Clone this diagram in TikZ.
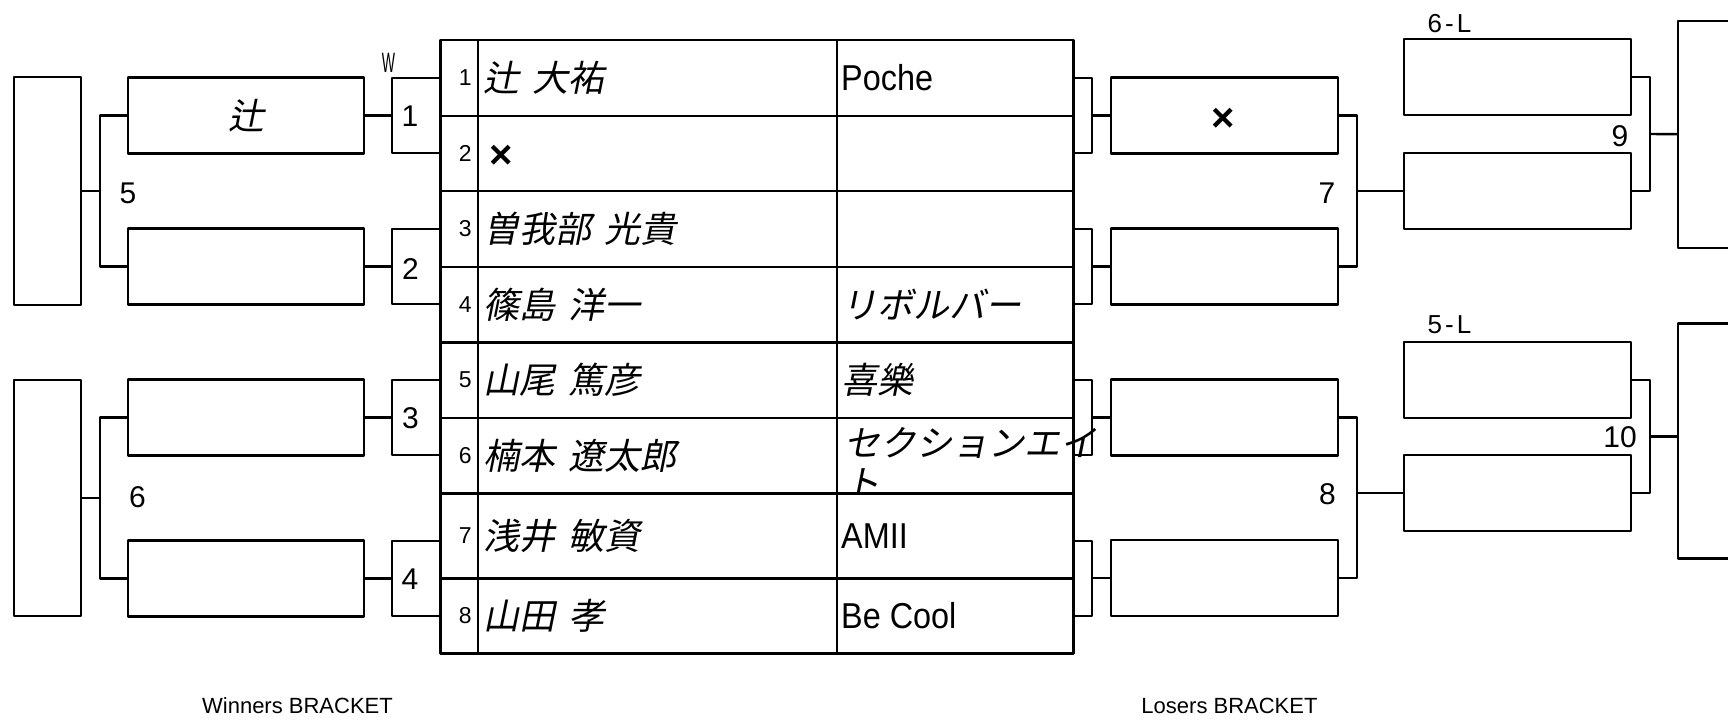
\documentclass[tikz,border=0pt]{standalone}
\usepackage{fontspec}
\setmainfont{Liberation Sans}
\newfontfamily\jpfont[FakeSlant=0.2,WordSpace=1.6]{Noto Sans CJK JP}
\newfontfamily\teamfont[FakeStretch=0.9]{Liberation Sans}
\newfontfamily\narrowfont[FakeStretch=0.5]{Liberation Sans}
\newcommand{\fsz}[1]{\fontsize{#1}{#1}\selectfont}
\usetikzlibrary{positioning, calc}

\tikzset{
	slot/.style={draw, minimum width=236pt, minimum height=76pt, font=\jpfont\fsz{36}},
	lslot/.style={draw, minimum width=227pt, minimum height=76pt, font=\jpfont\fsz{36}},
	cell/.style={draw},
	lbl/.style={font=\fsz{30}},
	xmark/.style={font=\normalfont\bfseries\fsz{40}}
}

\begin{document}
\begin{tikzpicture}[x=1pt, y=-1pt, line width=2.4pt, line join=round,
		every node/.style={inner sep=0pt}]
	\useasboundingbox (0,0) rectangle (1728,720);

	% entry table
	\foreach \i/\ya/\yb/\py/\nm/\tm in {
		1/40/115.7/78/辻 大祐/{\teamfont Poche},
		2/115.7/191/153/{},
		3/191/266.7/229/曽我部 光貴/{},
		4/266.7/342.5/304/篠島 洋一/リボルバー,
		5/342.5/417.7/380/山尾 篤彦/喜樂,
		6/417.7/493.3/455/楠本 遼太郎/{},
		7/493.3/578.3/541/浅井 敏資/{\teamfont AMII},
		8/578.3/653.3/616/山田 孝/{\teamfont Be Cool}} {
		\pgfmathsetmacro\yc{(\ya+\yb)/2}
		\pgfmathsetmacro\hh{\yb-\ya}
		\node[cell, minimum width=37.3pt, minimum height=\hh pt] (num\i) at (459.05,\yc) {};
		\node[cell, minimum width=359.5pt, minimum height=\hh pt] (nmc\i) at (657.45,\yc) {};
		\node[cell, minimum width=236.3pt, minimum height=\hh pt] (tmc\i) at (955.35,\yc) {};
		\node[anchor=east, font=\fsz{23}] (no\i) at ([xshift=-6pt]num\i.east) {\i};
		\node[anchor=west, font=\jpfont\fsz{36}] (nm\i) at ([xshift=6pt]nmc\i.west) {\nm};
		\node[anchor=west, font=\jpfont\fsz{36}] (tm\i) at ([xshift=4pt]tmc\i.west) {\tm};
		\coordinate (p\i) at (440.4,\py);
		\coordinate (q\i) at (1073.5,\py);
	}
	\node[xmark] (bye2) at (501,157) {×};
	% long team name runs out of its cell
	\begin{scope}
		\clip (837.2,417.7) rectangle (1300,493.3);
		\node[anchor=west, font=\jpfont\fsz{36}] (tm6a) at (843,442.5) {セクションエイ};
		\node[anchor=west, font=\jpfont\fsz{36}] (tm6b) at (843,483) {ト};
	\end{scope}

	% winners side
	\node[draw, minimum width=67pt, minimum height=228pt] (wf5) at (47.5,191) {};
	\node[draw, minimum width=67pt, minimum height=236pt] (wf6) at (47.5,498) {};
	\foreach \k/\y/\t in {1/115.5/辻, 2/266.5/, 3/417.5/, 4/578.5/} {
		\node[slot] (ws\k) at (246,\y) {\t};
		\coordinate (m\k) at (392,\y);
	}
	% losers side
	\foreach \k/\y in {1/115.5, 2/266.5, 3/417.5, 4/578} {
		\node[lslot] (ls\k) at (1224.5,\y) {};
		\coordinate (r\k) at (1092,\y);
	}
	\node[xmark] (bye1) at (1223,120) {×};
	\foreach \k/\y in {1/77, 2/191, 3/380, 4/493}
		\node[lslot] (lr\k) at (1517.5,\y) {};
	\node[draw, minimum width=100pt, minimum height=227pt] (rf9) at (1728,134.2) {};
	\node[draw, minimum width=100pt, minimum height=235pt] (rf10) at (1728,440.8) {};

	% first round brackets
	\foreach \k/\a/\b in {1/1/2, 2/3/4, 3/5/6, 4/7/8} {
		\draw (p\a) -| (m\k) |- (p\b);
		\draw (ws\k.east) -- (m\k);
		\draw (q\a) -| (r\k) |- (q\b);
		\draw (r\k) -- (ls\k.west);
	}

	\coordinate (k5) at (100,191);
	\coordinate (k6) at (100,498);
	\coordinate (k7) at (1357,191);
	\coordinate (k8) at (1357,497.75);
	\coordinate (k9) at (1650,134);
	\coordinate (k10) at (1650,436.5);
	\draw (ws1.west) -| (k5) |- (ws2.west);
	\draw (wf5.east) -- (k5);
	\draw (ws3.west) -| (k6) |- (ws4.west);
	\draw (wf6.east) -- (k6);
	\draw (ls1.east) -| (k7) |- (ls2.east);
	\draw (k7) -- (lr2.west);
	\draw (ls3.east) -| (k8) |- (ls4.east);
	\draw (lr4.west) -- (lr4.west -| k8);
	\draw (lr1.east) -| (k9) |- (lr2.east);
	\draw (k9) -- (rf9.west);
	\draw (lr3.east) -| (k10) |- (lr4.east);
	\draw (k10) -- (k10 -| rf10.west);

	% match numbers
	\foreach \k/\x/\y in {1/410/116, 2/410.5/269, 3/410.5/418.5, 4/410/579.5,
			5/128/193, 6/137.5/497, 7/1327/193, 8/1327.5/494, 9/1620/136, 10/1620/437.5}
		\node[lbl] (mt\k) at (\x,\y) {\k};
	\node[font=\narrowfont\fsz{28}] (wmark) at (388.5,63) {W};
	\node[font=\fsz{26}] (sl6) at (1449.5,24) {6\kern3pt-\kern3pt L};
	\node[font=\fsz{26}] (sl5) at (1449.5,325) {5\kern3pt-\kern3pt L};

	\node[font=\fsz{22}] (wtitle) at (297.5,706) {Winners BRACKET};
	\node[font=\fsz{22}] (ltitle) at (1229.5,706) {Losers BRACKET};
\end{tikzpicture}
\end{document}
